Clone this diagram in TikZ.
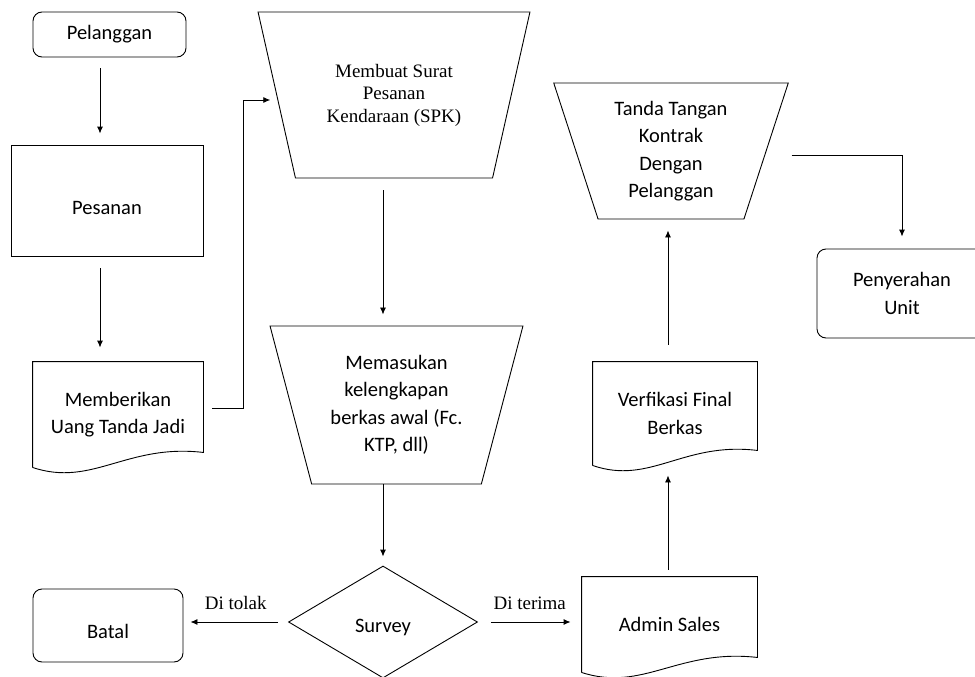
\documentclass[tikz,border=0pt]{standalone}
\usepackage{fontspec}
\setmainfont{Carlito}
\newfontfamily\timesfont{Liberation Serif}
\usetikzlibrary{shapes.geometric, arrows.meta, positioning, calc}

% document shape: wavy bottom edge
\newcommand{\docoutline}[1]{%
  \draw (#1.south west) -- (#1.north west) -- (#1.north east)
    -- ($(#1.south east)+(0,-15)$)
    .. controls ($(#1.south west)!0.55!(#1.south east)+(0,-24)$)
    and ($(#1.south west)!0.35!(#1.south east)+(0,20)$) .. (#1.south west);}
% lower a single line of text, keeping its size
\newcommand{\lowertext}[2]{\raisebox{-#1}[\height][\depth]{#2}}

\begin{document}
\begin{tikzpicture}[x=1pt, y=-1pt, line width=0.9pt,
    font=\fontsize{20.5}{27.5}\selectfont,
    rbox/.style={draw, rounded corners=9pt, align=center},
    pbox/.style={draw, align=center},
    docbox/.style={align=center, inner sep=0pt},
    trap/.style={draw, trapezium, shape border rotate=180, trapezium stretches=true, align=center, inner sep=0pt},
    decision/.style={draw, diamond, inner sep=0pt},
    arr/.style={-{Latex[length=7pt, width=6pt]}},
    lbl/.style={font=\timesfont\fontsize{19}{22}\selectfont}]
    \useasboundingbox (0,0) rectangle (975,677);

    \node[rbox, minimum width=153, minimum height=45] (pelanggan) at (109.5,34.5) {Pelanggan};
    \node[pbox, minimum width=192, minimum height=111] (pesanan) at (107,200.5) {\lowertext{7pt}{Pesanan}};
    \node[docbox, minimum width=170, minimum height=105] (uangjadi) at (118,414.5) {Memberikan\\Uang Tanda Jadi};
    \docoutline{uangjadi}
    \node[trap, trapezium left angle=67.7, trapezium right angle=67.7, minimum width=272, minimum height=166,
        font=\timesfont\fontsize{19}{22.5}\selectfont] (spk) at (394,95) {Membuat Surat\\Pesanan\\Kendaraan (SPK)};
    \node[trap, trapezium left angle=72, trapezium right angle=72, minimum width=253, minimum height=158] (berkas) at (396.5,405)
        {Memasukan\\kelengkapan\\berkas awal (Fc.\\KTP, dll)};
    \node[decision, minimum width=189, minimum height=112] (survey) at (383,622) {\lowertext{5pt}{Survey}};
    \node[rbox, minimum width=150, minimum height=73] (batal) at (108,625.5) {\lowertext{6pt}{Batal}};
    \node[docbox, minimum width=175, minimum height=95] (admin) at (669.5,624.5) {Admin Sales};
    \docoutline{admin}
    \node[docbox, minimum width=164, minimum height=103] (verifikasi) at (675,413.5) {Verfikasi Final\\Berkas};
    \docoutline{verifikasi}
    \node[trap, trapezium left angle=71.1, trapezium right angle=71.1, minimum width=235, minimum height=136] (kontrak) at (671,151)
        {Tanda Tangan\\Kontrak\\Dengan\\Pelanggan};
    \node[rbox, minimum width=170, minimum height=89] (serah) at (902,293.5) {Penyerahan\\Unit};

    \draw[arr, shorten <=11pt, shorten >=11pt] ([xshift=-9.5pt]pelanggan.south) -- ([xshift=-9.5pt]pelanggan.south |- pesanan.north);
    \draw[arr, shorten <=12pt, shorten >=14pt] ([xshift=-7pt]pesanan.south) -- ([xshift=-7pt]pesanan.south |- uangjadi.north);
    \draw[arr, shorten <=9pt, shorten >=6pt] ([yshift=6.5pt]uangjadi.east) -- ++(40,0) |- ([yshift=-5pt]spk.west);
    \draw[arr, shorten <=12pt, shorten >=11pt] (spk.south -| survey.north) -- (berkas.north -| survey.north);
    \draw[arr, shorten >=9pt] (berkas.south -| survey.north) -- (survey.north);
    \draw[arr, shorten <=10pt, shorten >=7pt] (survey.west) -- (survey.west -| batal.east)
        node[midway, above=9pt, lbl] {Di tolak};
    \draw[arr, shorten <=13pt, shorten >=11pt] (survey.east) -- (survey.east -| admin.west)
        node[midway, above=9pt, lbl] {Di terima};
    \draw[arr, shorten <=7pt, shorten >=10pt] ([xshift=-1.5pt]admin.north) -- ([xshift=-1.5pt]admin.north |- verifikasi.south);
    \draw[arr, shorten <=17pt, shorten >=11pt] ([xshift=-7pt]verifikasi.north) -- ([xshift=-7pt]verifikasi.north |- kontrak.south);
    \draw[arr, shorten <=25pt, shorten >=12pt] ([yshift=-4pt]kontrak.east) -| (serah.north);
\end{tikzpicture}
\end{document}
